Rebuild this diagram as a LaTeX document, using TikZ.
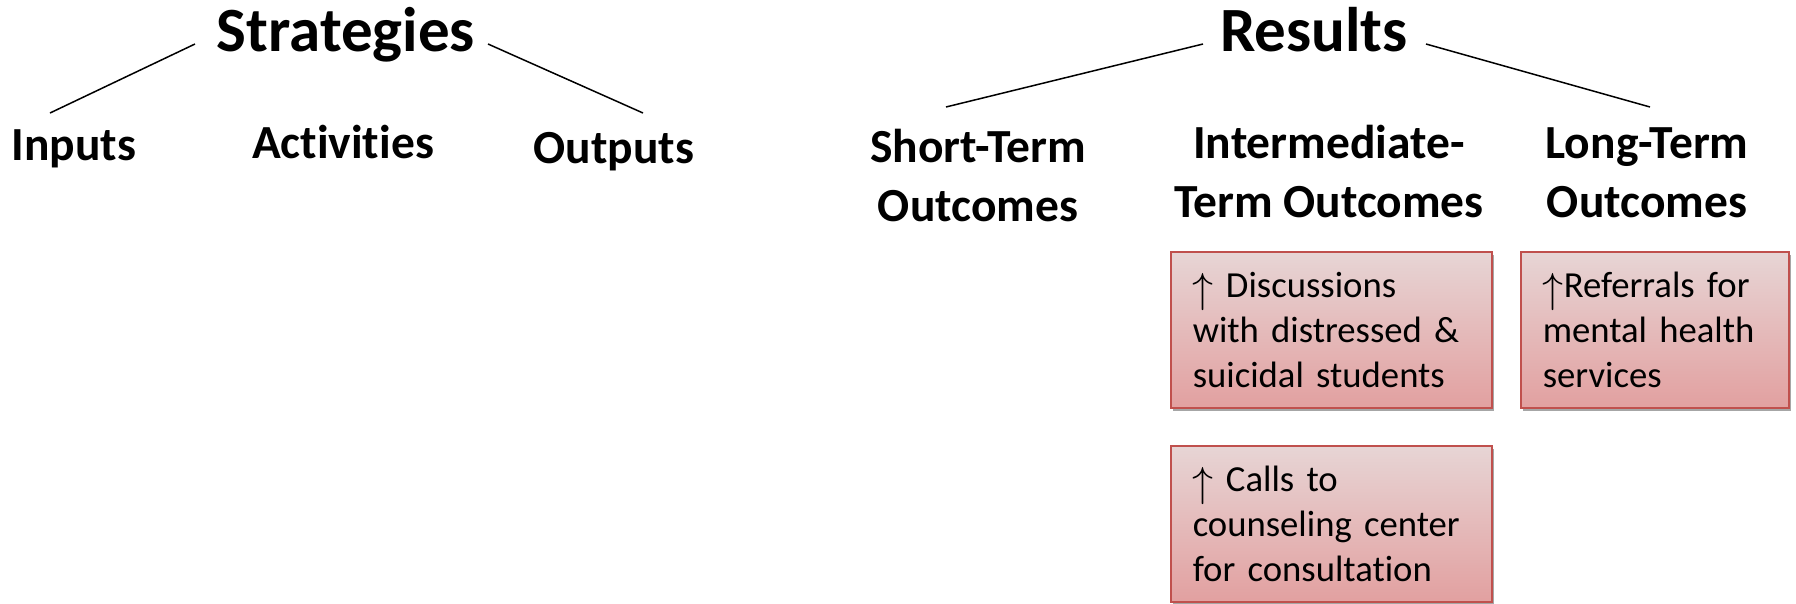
\RequirePackage{fix-cm}
\documentclass[tikz,border=0pt]{standalone}
\usepackage{fontspec}
\setmainfont[Ligatures=NoCommon]{Carlito}
\usetikzlibrary{shadows}

\definecolor{boxline}{RGB}{192,80,77}
\definecolor{boxtop}{RGB}{231,213,213}
\definecolor{boxbot}{RGB}{226,160,160}

% thin up arrow set before the box texts
\newcommand{\uparr}{\raisebox{-5pt}{\fontsize{42}{45}\selectfont$\uparrow$}}

\begin{document}
\begin{tikzpicture}[x=1pt,y=-1pt,
  title/.style={font=\fontsize{63}{76}\selectfont\bfseries, inner sep=0pt, anchor=base},
  head/.style={font=\fontsize{47.5}{58.5}\selectfont\bfseries, inner sep=0pt, anchor=base, align=center},
  outbox/.style={draw=boxline, line width=1.5pt, top color=boxtop, bottom color=boxbot,
    anchor=north west, inner xsep=22pt, inner ysep=0pt, align=left,
    font=\fontsize{36.7}{45}\selectfont,
    drop shadow={shadow xshift=2pt, shadow yshift=-3pt, fill=black, opacity=0.35}},
  link/.style={line width=1.5pt}]
\useasboundingbox (0,0) rectangle (1796,603);

% headings
\node[title] (strat) at (346,51) {Strategies};
\node[title] (res) at (1314,51) {Results};

\node[head] (inp) at (74,160) {Inputs};
\node[head] (act) at (343,158) {Activities};
\node[head] (outp) at (614,163) {Outputs};

% two-line headings: placed by the baseline of their last line
\node[head] (st) at (978,221) {Short-Term\\Outcomes};
\node[head] (it) at (1329,217) {Intermediate-\\Term Outcomes};
\node[head] (lt) at (1647,217) {Long-Term\\Outcomes};

% branch lines
\coordinate (sl-a) at (195,44);
\coordinate (sl-b) at (50,113);
\coordinate (sr-a) at (488,44);
\coordinate (sr-b) at (643,113);
\coordinate (rl-a) at (1203,44);
\coordinate (rl-b) at (946,107);
\coordinate (rr-a) at (1426,44);
\coordinate (rr-b) at (1650,107);
\draw[link] (sl-a) -- (sl-b);
\draw[link] (sr-a) -- (sr-b);
\draw[link] (rl-a) -- (rl-b);
\draw[link] (rr-a) -- (rr-b);

% outcome boxes
\node[outbox, minimum width=321pt, minimum height=156pt, text width=277pt] (disc) at (1170,251)
  {\uparr\ Discussions\\with distressed \&\\suicidal students};
\node[outbox, minimum width=268pt, minimum height=156pt, text width=224pt] (refr) at (1520,251)
  {\uparr Referrals for\\mental health\\services};
\node[outbox, minimum width=321pt, minimum height=156pt, text width=277pt] (calls) at (1170,445)
  {\uparr\ Calls to\\counseling center\\for consultation};
\end{tikzpicture}
\end{document}
